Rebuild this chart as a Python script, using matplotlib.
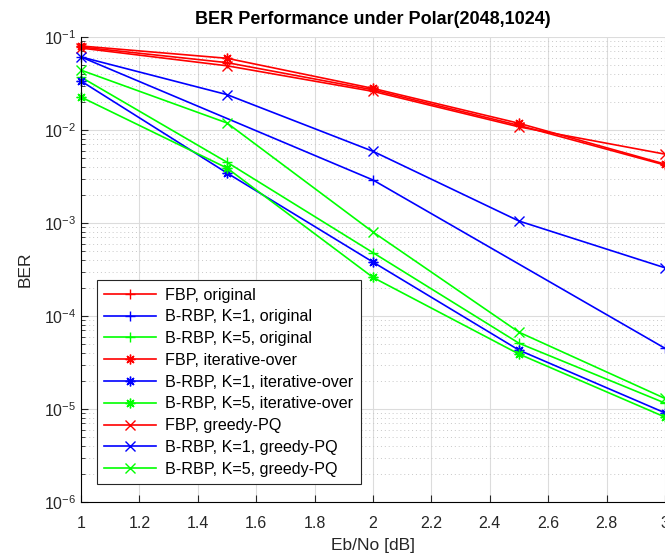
import numpy as np
import matplotlib.pyplot as plt
from matplotlib.ticker import LogLocator, NullFormatter

plt.rcParams['font.family'] = ['Liberation Sans', 'DejaVu Sans']
plt.rcParams['mathtext.fontset'] = 'custom'
plt.rcParams['mathtext.rm'] = 'Liberation Sans'
plt.rcParams['mathtext.it'] = 'Liberation Sans'

# Eb/No 取樣點
ebno = [1.0, 1.5, 2.0, 2.5, 3.0]
ebno_k1_orig = [1.0, 2.0, 3.0]  # 這條只有三個點

# FBP
fbp_orig = [0.078, 0.053, 0.027, 0.0112, 0.0042]
fbp_iter = [0.080, 0.059, 0.028, 0.0118, 0.0043]
fbp_greedy = [0.076, 0.049, 0.026, 0.0108, 0.0055]

# B-RBP, K=1
k1_orig = [0.061, 0.0029, 4.5e-5]
k1_iter = [0.0336, 0.00345, 3.8e-4, 4.3e-5, 9.1e-6]
k1_greedy = [0.061, 0.024, 0.0059, 0.00105, 3.3e-4]

# B-RBP, K=5
k5_orig = [0.037, 0.0045, 4.8e-4, 5.1e-5, 1.16e-5]
k5_iter = [0.0226, 0.0039, 2.6e-4, 3.9e-5, 8.2e-6]
k5_greedy = [0.044, 0.0119, 8.0e-4, 6.7e-5, 1.3e-5]

star = (8, 2, 0)
series = [
    (ebno, fbp_orig, 'r', '+', 'FBP, original'),
    (ebno_k1_orig, k1_orig, 'b', '+', 'B-RBP, K=1, original'),
    (ebno, k5_orig, 'lime', '+', 'B-RBP, K=5, original'),
    (ebno, fbp_iter, 'r', star, 'FBP, iterative-over'),
    (ebno, k1_iter, 'b', star, 'B-RBP, K=1, iterative-over'),
    (ebno, k5_iter, 'lime', star, 'B-RBP, K=5, iterative-over'),
    (ebno, fbp_greedy, 'r', 'x', 'FBP, greedy-PQ'),
    (ebno, k1_greedy, 'b', 'x', 'B-RBP, K=1, greedy-PQ'),
    (ebno, k5_greedy, 'lime', 'x', 'B-RBP, K=5, greedy-PQ'),
]

fig = plt.figure(figsize=(6.65, 5.56), dpi=100)
ax = fig.add_axes([0.1218, 0.097, 0.8782, 0.8365])

for x, y, c, m, lab in series:
    ax.semilogy(x, y, color=c, marker=m, markersize=7, linewidth=1.2,
                markeredgewidth=1.0, label=lab, clip_on=False)

ax.set_xlim(1, 3)
ax.set_ylim(1e-6, 1e-1)
ax.set_xticks(np.arange(1, 3.01, 0.2))
ax.set_xticklabels(['1', '1.2', '1.4', '1.6', '1.8', '2', '2.2', '2.4', '2.6', '2.8', '3'])
ax.yaxis.set_minor_locator(LogLocator(base=10, subs=np.arange(2, 10)))
ax.yaxis.set_minor_formatter(NullFormatter())

ax.grid(True, which='major', color='#dcdcdc', linewidth=0.8)
ax.grid(True, which='minor', axis='y', color='#c8c8c8', linestyle=(0, (1, 3)), linewidth=0.7)
ax.set_axisbelow(True)

ax.spines['top'].set_visible(False)
ax.spines['right'].set_visible(False)
ax.tick_params(direction='in', which='both', labelsize=11.5, colors='#262626')
ax.tick_params(which='major', length=5)
ax.tick_params(which='minor', length=3)
ax.tick_params(axis='x', pad=10)

ax.set_xlabel('Eb/No [dB]', fontsize=12.5, color='#262626', labelpad=5)
ax.set_ylabel('BER', fontsize=12.5, color='#262626', labelpad=8)
ax.set_title('BER Performance under Polar(2048,1024)', fontsize=13, fontweight='bold', pad=9)

leg = ax.legend(loc='lower left', bbox_to_anchor=(0.027, 0.039), borderaxespad=0,
                fontsize=11.6, handlelength=3.2, handletextpad=0.6, fancybox=False,
                framealpha=1, edgecolor='#262626', labelspacing=0.42, borderpad=0.45)
leg.get_frame().set_linewidth(0.8)

fig.savefig('out.png', dpi=100)
